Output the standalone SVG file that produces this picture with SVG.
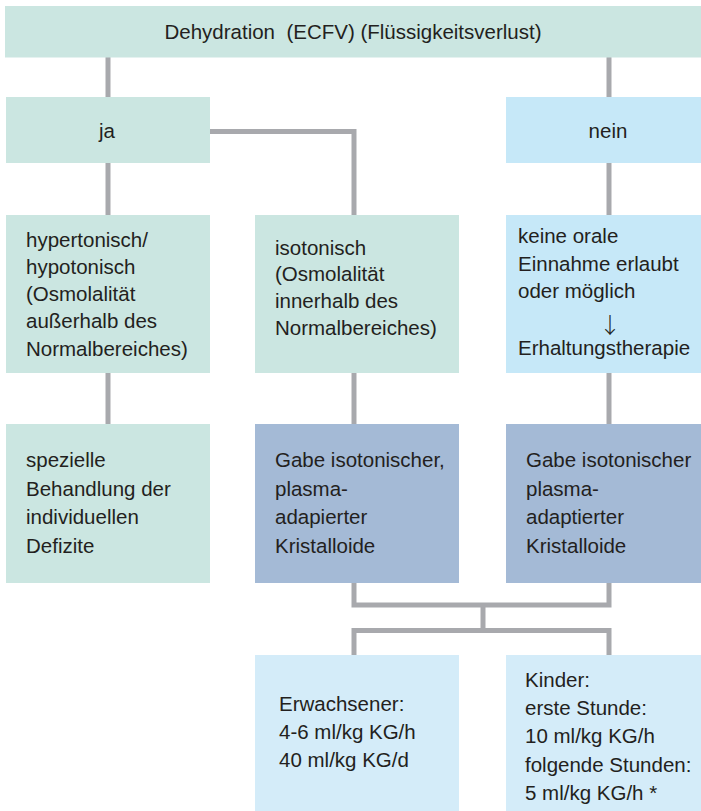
<svg xmlns="http://www.w3.org/2000/svg" width="701" height="811" viewBox="0 0 701 811">
<style>
.t{font-family:"Liberation Sans",Arial,sans-serif;font-size:20.5px;fill:#231f20;white-space:pre}
.c{text-anchor:middle}
.ar{font-family:"Noto Sans CJK SC","DejaVu Sans",sans-serif;font-size:22px;font-weight:300;fill:#231f20;text-anchor:middle}
.teal{fill:#cbe6e1}
.blue{fill:#c6e8f8}
.steel{fill:#a4bad6}
.light{fill:#d4ecf9}
.ln{fill:none;stroke:#a8a9ad;stroke-width:5;stroke-linejoin:miter}
</style>
<rect width="701" height="811" fill="#ffffff"/>
<g id="connectors">
<path class="ln" d="M108,57 V97"/>
<path class="ln" d="M609,57 V97"/>
<path class="ln" d="M108,163 V215"/>
<path class="ln" d="M210,131.5 H354 V215"/>
<path class="ln" d="M609,163 V215"/>
<path class="ln" d="M108,373 V424"/>
<path class="ln" d="M354,373 V424"/>
<path class="ln" d="M609,373 V424"/>
<path class="ln" d="M354,583 V605 H609 V583"/>
<path class="ln" d="M483,605 V630.5"/>
<path class="ln" d="M354,655 V630.5 H609 V655"/>
</g>
<g id="dehydration">
<rect class="teal" x="5" y="6" width="696" height="51.5"/>
<text class="t c" x="353" y="39" xml:space="preserve">Dehydration  (ECFV) (Flüssigkeitsverlust)</text>
</g>
<g id="ja">
<rect class="teal" x="6" y="97" width="204" height="66"/>
<text class="t c" x="107" y="138">ja</text>
</g>
<g id="nein">
<rect class="blue" x="506" y="97" width="195" height="66"/>
<text class="t c" x="608" y="138">nein</text>
</g>
<g id="hyper">
<rect class="teal" x="6" y="215" width="204" height="158"/>
<text class="t" x="26" y="247">hypertonisch/</text>
<text class="t" x="26" y="274">hypotonisch</text>
<text class="t" x="26" y="301">(Osmolalität</text>
<text class="t" x="26" y="328">außerhalb des</text>
<text class="t" x="26" y="356">Normalbereiches)</text>
</g>
<g id="iso">
<rect class="teal" x="255" y="215" width="204" height="158"/>
<text class="t" x="275" y="255">isotonisch</text>
<text class="t" x="275" y="281">(Osmolalität</text>
<text class="t" x="275" y="308">innerhalb des</text>
<text class="t" x="275" y="335">Normalbereiches)</text>
</g>
<g id="keine">
<rect class="blue" x="506" y="215" width="195" height="158"/>
<text class="t" x="518" y="243">keine orale</text>
<text class="t" x="518" y="271">Einnahme erlaubt</text>
<text class="t" x="518" y="298">oder möglich</text>
<text class="ar" x="610" y="333">↓</text>
<text class="t" x="518" y="355">Erhaltungstherapie</text>
</g>
<g id="spezielle">
<rect class="teal" x="6" y="424" width="204" height="159"/>
<text class="t" x="26" y="467">spezielle</text>
<text class="t" x="26" y="496">Behandlung der</text>
<text class="t" x="26" y="524">individuellen</text>
<text class="t" x="26" y="553">Defizite</text>
</g>
<g id="gabe1">
<rect class="steel" x="255" y="424" width="204" height="159"/>
<text class="t" x="275" y="467">Gabe isotonischer,</text>
<text class="t" x="275" y="496">plasma-</text>
<text class="t" x="275" y="524">adapierter</text>
<text class="t" x="275" y="553">Kristalloide</text>
</g>
<g id="gabe2">
<rect class="steel" x="506" y="424" width="195" height="159"/>
<text class="t" x="526" y="467">Gabe isotonischer</text>
<text class="t" x="526" y="496">plasma-</text>
<text class="t" x="526" y="524">adaptierter</text>
<text class="t" x="526" y="553">Kristalloide</text>
</g>
<g id="erwachsener">
<rect class="light" x="255" y="655" width="204" height="156"/>
<text class="t" x="279" y="711">Erwachsener:</text>
<text class="t" x="279" y="739">4-6 ml/kg KG/h</text>
<text class="t" x="279" y="767">40 ml/kg KG/d</text>
</g>
<g id="kinder">
<rect class="light" x="506" y="655" width="195" height="156"/>
<text class="t" x="525" y="687">Kinder:</text>
<text class="t" x="525" y="715">erste Stunde:</text>
<text class="t" x="525" y="743">10 ml/kg KG/h</text>
<text class="t" x="525" y="772">folgende Stunden:</text>
<text class="t" x="525" y="800">5 ml/kg KG/h *</text>
</g>
</svg>
